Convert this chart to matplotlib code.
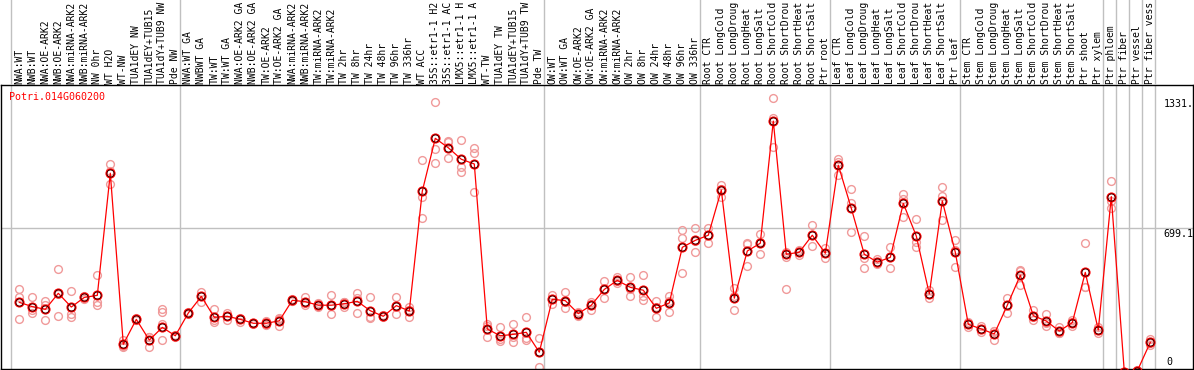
import matplotlib
matplotlib.use("Agg")
import matplotlib.pyplot as plt
from matplotlib.transforms import blended_transform_factory, offset_copy

# ---------------- data ----------------
gene_id = "Potri.014G060200"

# labels as they appear in the header (the header only has room for 14 characters)
sample_labels = [
    "NWA:WT", "NWB:WT", "NWA:OE-ARK2", "NWB:OE-ARK2", "NWA:miRNA-ARK2", "NWB:miRNA-ARK2",
    "NW 0hr", "WT H2O", "WT-NW", "TUA1dEY NW", "TUA1dEY+TUB15", "TUA1dY+TUB9 NW", "Pde NW",
    "NWA:WT GA", "NWBWT GA", "TW:WT", "TW:WT GA", "NWA:OE-ARK2 GA", "NWB:OE-ARK2 GA",
    "TW:OE-ARK2", "TW:OE-ARK2 GA", "NWA:miRNA-ARK2", "NWB:miRNA-ARK2", "TW:miRNA-ARK2",
    "TW:miRNA-ARK2", "TW 2hr", "TW 8hr", "TW 24hr", "TW 48hr", "TW 96hr", "TW 336hr",
    "WT ACC", "35S::etr1-1 H2", "35S::etr1-1 AC", "LMX5::etr1-1 H", "LMX5::etr1-1 A",
    "WT-TW", "TUA1dEY TW", "TUA1dEY+TUB15", "TUA1dY+TUB9 TW", "Pde TW",
    "OW:WT", "OW:WT GA", "OW:OE-ARK2", "OW:OE-ARK2 GA", "OW:miRNA-ARK2", "OW:miRNA-ARK2",
    "OW 2hr", "OW 8hr", "OW 24hr", "OW 48hr", "OW 96hr", "OW 336hr",
    "Root CTR", "Root LongCold", "Root LongDroug", "Root LongHeat", "Root LongSalt",
    "Root ShortCold", "Root ShortDrou", "Root ShortHeat", "Root ShortSalt", "Ptr root",
    "Leaf CTR", "Leaf LongCold", "Leaf LongDroug", "Leaf LongHeat", "Leaf LongSalt",
    "Leaf ShortCold", "Leaf ShortDrou", "Leaf ShortHeat", "Leaf ShortSalt", "Ptr leaf",
    "Stem CTR", "Stem LongCold", "Stem LongDroug", "Stem LongHeat", "Stem LongSalt",
    "Stem ShortCold", "Stem ShortDrou", "Stem ShortHeat", "Stem ShortSalt", "Ptr shoot",
    "Ptr xylem", "Ptr phloem", "Ptr fiber", "Ptr vessel", "Ptr fiber vess",
]

mean_values = [
    337, 316, 303, 381, 314, 361, 371, 966, 133, 254, 153, 215, 174,
    285, 366, 264, 269, 254, 235, 235, 247, 347, 340, 323, 323, 330, 342, 296, 269, 321, 295,
    879, 1136, 1090, 1034, 1011, 207, 174, 181, 191, 94,
    352, 345, 282, 323, 400, 444, 410, 396, 308, 334, 605, 639,
    664, 884, 357, 587, 625, 1220, 571, 581, 664, 576,
    1005, 795, 571, 533, 556, 819, 660, 378, 831, 581,
    230, 207, 183, 323, 469, 272, 246, 197, 238, 483, 202, 852, 0, 3, 142,
]

replicate_values = [
    [400, 361, 256], [363, 300, 287], [345, 324, 251], [498, 376, 269], [392, 280, 264],
    [355, 361, 368], [470, 337, 324], [1009, 975, 914], [153, 121, 126], [262, 250, 250],
    [170, 121, 168], [304, 288, 231, 153], [180, 170, 172],
    [291, 278, 286], [387, 366, 339], [303, 250, 240], [287, 269, 251], [262, 258, 240],
    [237, 235, 233], [245, 227, 233], [262, 255, 222], [352, 345, 343], [363, 333, 324],
    [334, 323, 313], [371, 318, 280], [337, 340, 313], [384, 358, 284], [361, 265, 262],
    [275, 265, 268], [363, 321, 279], [316, 302, 267],
    [1030, 852, 746], [1311, 1083, 1014], [1125, 1117, 1039], [1128, 998, 970],
    [1087, 1063, 873], [229, 222, 170], [215, 157, 150], [231, 167, 145], [264, 162, 153],
    [162, 96, 24],
    [373, 352, 330], [386, 341, 308], [291, 282, 272], [339, 330, 300], [439, 404, 357],
    [462, 440, 430], [459, 402, 369], [469, 369, 347], [345, 312, 267], [369, 342, 291],
    [689, 652, 478], [699, 637, 581],
    [699, 665, 628], [909, 891, 852], [405, 366, 300], [624, 622, 515], [670, 633, 572],
    [1331, 1234, 1095], [580, 559, 400], [590, 581, 570], [714, 664, 611], [600, 576, 551],
    [1035, 1020, 957], [888, 819, 678], [660, 551, 503], [547, 527, 525], [608, 556, 503],
    [865, 840, 754], [741, 630, 608], [397, 378, 357], [900, 855, 738], [641, 590, 511],
    [240, 235, 215], [224, 207, 191], [199, 197, 153], [357, 325, 287], [494, 492, 421],
    [300, 265, 251], [280, 236, 222], [215, 190, 186], [251, 241, 222], [628, 411, 410],
    [218, 202, 186], [928, 833, 795], [0, 0, 0], [5, 3, 0], [157, 140, 129],
]

group_starts = [0, 13, 41, 53, 63, 73, 84, 85, 86, 87, 88]
y_tick_values = [1331, 699.1, 0]
y_tick_labels = ["1331.", "699.1", "0"]

# ---------------- figure ----------------
W, H = 1194, 370
FONT = "DejaVu Sans Mono"
FS = 7.2
HFS = 7.0
fig = plt.figure(figsize=(W / 100, H / 100), dpi=100)
ax = fig.add_axes([1 / W, 1 / H, 1192 / W, 284 / H])
head = fig.add_axes([1 / W, 285 / H, 1192 / W, 85 / H], sharex=ax)

xlim = (-1.408, 90.285)
ax.set_xlim(*xlim)
ax.set_ylim(12.2, 1395.8)
head.set_ylim(0, 1)

x = list(range(len(mean_values)))

# separators and grid
grey = "#c0c0c0"
for g in group_starts:
    ax.axvline(g - 0.63, color=grey, lw=1.0, zorder=1)
    head.axvline(g - 0.63, color=grey, lw=1.0, zorder=1)
ax.axhline(y_tick_values[1], color=grey, lw=1.0, zorder=1)

# replicates
for xi, reps in zip(x, replicate_values):
    ax.plot([xi] * len(reps), reps, "o", mfc="none", mec="#f09a9a", ms=5.6, mew=1.0, zorder=2)

# mean line and markers
ax.plot(x, mean_values, "-", color="#ff0000", lw=0.9, zorder=3)
ax.plot(x, mean_values, "o", mfc="none", mec="#ff0000", ms=6.0, mew=1.3, zorder=4)
ax.plot(x, mean_values, "o", mfc="none", mec="#200000", ms=5.2, mew=0.6, zorder=5)

# spines
for s in ax.spines.values():
    s.set_color("black")
    s.set_linewidth(1.0)
ax.set_xticks([])
ax.set_yticks([])
for s in head.spines.values():
    s.set_visible(False)
head.set_xticks([])
head.set_yticks([])
head.patch.set_alpha(0)

# header labels
htrans = offset_copy(blended_transform_factory(head.transData, head.transAxes),
                     fig=fig, x=0, y=1.5, units="dots")
for xi, lab in zip(x, sample_labels):
    head.text(xi, 0, lab, transform=htrans, rotation=90, ha="center", va="bottom",
              family=FONT, fontsize=HFS, color="black", clip_on=False)

# title
fig.text(9.5 / W, 1 - 97.5 / H, gene_id, color="#ff0000", family=FONT, fontsize=FS,
         ha="left", va="center")

# y value labels
for val, lab in zip(y_tick_values[:2], y_tick_labels[:2]):
    tr = offset_copy(ax.transData, fig=fig, x=0, y=-0.5, units="dots")
    ax.text(88.0, val, lab, transform=tr, ha="left", va="top", family=FONT, fontsize=FS,
            color="black", clip_on=True)
tr0 = offset_copy(blended_transform_factory(ax.transData, ax.transAxes), fig=fig,
                  x=0, y=7.0, units="dots")
ax.text(88.2, 0, y_tick_labels[2], transform=tr0, ha="left", va="center", family=FONT,
        fontsize=FS, color="black")

fig.savefig("out.png", dpi=100)
